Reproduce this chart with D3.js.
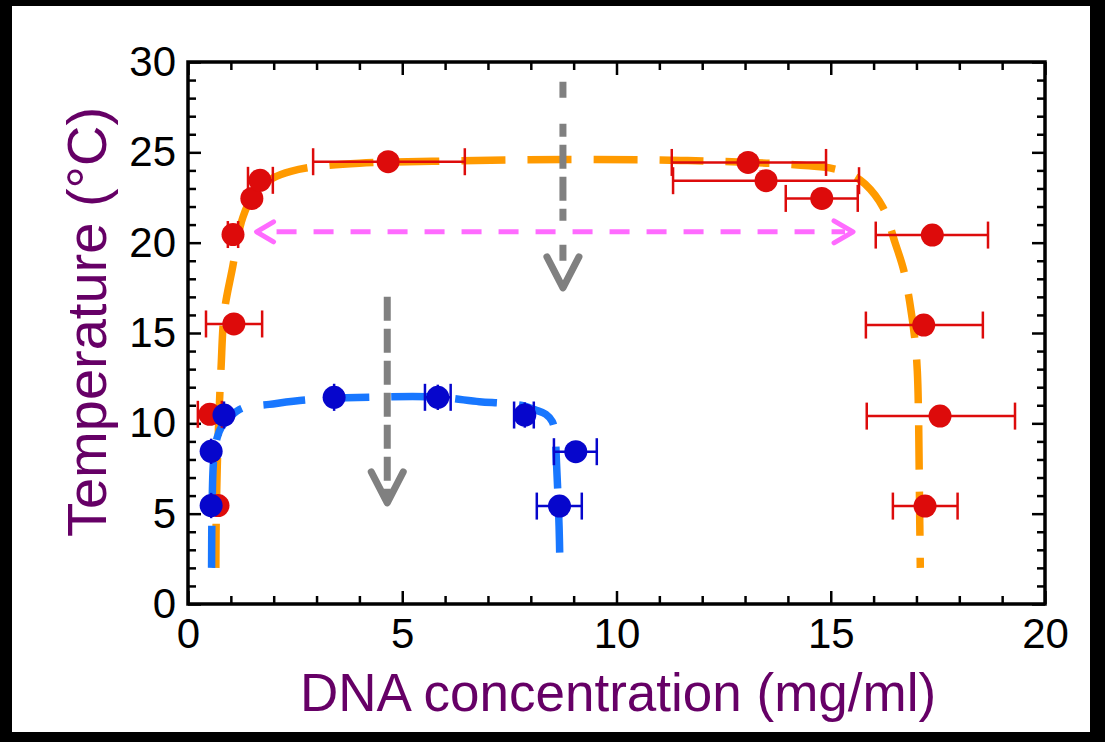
<!DOCTYPE html>
<html>
<head>
<meta charset="utf-8">
<script src="https://cdn.jsdelivr.net/npm/d3@7"></script>
<style>
  body { margin: 0; background: #000; }
  svg { display: block; }
  .tick text { font-family: "Liberation Sans", Arial, sans-serif; fill: #000; }
  .domain { display: none; }
</style>
</head>
<body>
<svg id="chart" width="1105" height="742"></svg>
<script>
// red series: points with horizontal error bars
var redX   = [4.67, 13.07, 13.49, 14.79, 17.37, 17.17, 17.55, 17.2, 1.05, 1.49, 1.68, 1.07, 0.51, 0.7];
var redY   = [24.48, 24.44, 23.43, 22.45, 20.42, 15.44, 10.4, 5.42, 20.45, 22.45, 23.45, 15.5, 10.5, 5.45];
var redXLo = [2.92, 11.29, 11.32, 13.95, 16.05, 15.82, 15.84, 16.45, 0.93, 1.49, 1.4, 0.42, 0.23, 0.7];
var redXHi = [6.46, 14.89, 15.66, 15.63, 18.67, 18.55, 19.3, 17.96, 1.17, 1.49, 1.98, 1.73, 0.79, 0.7];

// blue series
var blueX   = [0.54, 0.54, 0.84, 3.41, 5.83, 7.86, 9.05, 8.67];
var blueY   = [5.45, 8.45, 10.46, 11.44, 11.44, 10.46, 8.43, 5.42];
var blueXLo = [0.54, 0.54, 0.84, 3.41, 5.53, 7.61, 8.54, 8.14];
var blueXHi = [0.54, 0.54, 0.84, 3.41, 6.13, 8.07, 9.54, 9.19];
var blueYErr = [0.7, 0.7, 0.75, 0.75, 0.7, 0.7, 0.5, 0.5];

// dashed guide curves
var orangeCurve = [[0.65, 2.0], [0.66, 5], [0.7, 9], [0.77, 13], [0.85, 16.2], [1.03, 18.5],
  [1.28, 21.4], [1.6, 22.9], [2.0, 23.6], [2.4, 23.95], [2.95, 24.2], [4, 24.4], [5.7, 24.5],
  [8.8, 24.6], [11.5, 24.55], [13.5, 24.4], [14.5, 24.25], [15.05, 24.1], [15.45, 23.8],
  [15.8, 23.25], [16.22, 21.95], [16.5, 20.0], [16.7, 18.5], [16.85, 16.6], [16.97, 14.5],
  [17.02, 12.9], [17.05, 10.2], [17.07, 6], [17.09, 2.0]];
var blueCurve = [[0.55, 2.0], [0.56, 5], [0.6, 8], [0.68, 9.2], [0.78, 9.8], [1.0, 10.4],
  [1.28, 10.85], [1.9, 11.05], [2.8, 11.3], [4.4, 11.45], [5.8, 11.45], [6.8, 11.2],
  [7.4, 11.1], [7.86, 10.95], [8.1, 10.75], [8.35, 10.5], [8.5, 10.1], [8.56, 9.5],
  [8.6, 7.8], [8.66, 4.3], [8.68, 2.05]];

// annotation arrows (data units)
var grayArrowX   = [8.75, 4.65];
var grayArrowTop = [28.9, 17.0];
var grayArrowTip = [17.5, 5.6];
var pinkArrowY = 20.6, pinkArrowX = [1.6, 15.52];

var xTicks = [0, 5, 10, 15, 20];
var yTicks = [0, 5, 10, 15, 20, 25, 30];

var svg = d3.select("#chart");
svg.append("rect").attr("width", 1105).attr("height", 742).attr("fill", "#000");
svg.append("rect").attr("x", 12).attr("y", 6).attr("width", 1078).attr("height", 726).attr("fill", "#fff");

var x = d3.scaleLinear().domain([0, 20]).range([188, 1045]);
var y = d3.scaleLinear().domain([0, 30]).range([604, 62]);

var minorX = d3.range(0, 21).filter(function(v) { return v % 5; });
var minorY = d3.range(0, 31).filter(function(v) { return v % 5; });

function styleAxis(g) {
  g.selectAll(".tick line").attr("stroke", "#000").attr("stroke-width", 2.5);
  g.selectAll(".tick text").style("font-size", "42px");
}

// bottom
svg.append("g").attr("transform", "translate(0,604)")
  .call(d3.axisBottom(x).tickValues(xTicks).tickSize(-13).tickPadding(14).tickFormat(d3.format("d")))
  .call(styleAxis);
svg.append("g").attr("transform", "translate(0,604)")
  .call(d3.axisBottom(x).tickValues(minorX).tickSize(-8).tickFormat(""))
  .call(styleAxis);
// top
svg.append("g").attr("transform", "translate(0,62)")
  .call(d3.axisTop(x).tickValues(xTicks).tickSize(-13).tickFormat(""))
  .call(styleAxis);
svg.append("g").attr("transform", "translate(0,62)")
  .call(d3.axisTop(x).tickValues(minorX).tickSize(-8).tickFormat(""))
  .call(styleAxis);
// left
svg.append("g").attr("transform", "translate(188,0)")
  .call(d3.axisLeft(y).tickValues(yTicks).tickSize(-13).tickPadding(12).tickFormat(d3.format("d")))
  .call(styleAxis);
svg.append("g").attr("transform", "translate(188,0)")
  .call(d3.axisLeft(y).tickValues(minorY).tickSize(-8).tickFormat(""))
  .call(styleAxis);
// right
svg.append("g").attr("transform", "translate(1045,0)")
  .call(d3.axisRight(y).tickValues(yTicks).tickSize(-13).tickFormat(""))
  .call(styleAxis);
svg.append("g").attr("transform", "translate(1045,0)")
  .call(d3.axisRight(y).tickValues(minorY).tickSize(-8).tickFormat(""))
  .call(styleAxis);

svg.append("rect")
  .attr("x", x(0)).attr("y", y(30))
  .attr("width", x(20) - x(0)).attr("height", y(0) - y(30))
  .attr("fill", "none").attr("stroke", "#000").attr("stroke-width", 3.5);

// curves
var line = d3.line()
  .x(function(d) { return x(d[0]); })
  .y(function(d) { return y(d[1]); })
  .curve(d3.curveCatmullRom.alpha(0.5));

svg.append("path").datum(orangeCurve)
  .attr("d", line).attr("fill", "none")
  .attr("stroke", "#ff9a00").attr("stroke-width", 7.5).attr("stroke-dasharray", "44,22");
svg.append("path").datum(blueCurve)
  .attr("d", line).attr("fill", "none")
  .attr("stroke", "#1877ff").attr("stroke-width", 7.5).attr("stroke-dasharray", "42,22");

// pink double arrow
var pink = svg.append("g").attr("stroke", "#ff6bff").attr("fill", "none")
  .attr("stroke-width", 5).attr("stroke-linecap", "round").attr("stroke-linejoin", "round");
pink.append("line")
  .attr("x1", x(pinkArrowX[0]) + 20).attr("x2", x(pinkArrowX[1]) - 8)
  .attr("y1", y(pinkArrowY)).attr("y2", y(pinkArrowY))
  .attr("stroke-dasharray", "20,17").attr("stroke-linecap", "butt");
pink.append("polyline").attr("points", [
  [x(pinkArrowX[0]) + 17, y(pinkArrowY) - 10], [x(pinkArrowX[0]), y(pinkArrowY)], [x(pinkArrowX[0]) + 17, y(pinkArrowY) + 10]
].join(" "));
pink.append("polyline").attr("points", [
  [x(pinkArrowX[1]) - 19, y(pinkArrowY) - 11], [x(pinkArrowX[1]), y(pinkArrowY)], [x(pinkArrowX[1]) - 19, y(pinkArrowY) + 11]
].join(" "));

// gray arrows
var gray = svg.append("g").attr("stroke", "#808080").attr("fill", "none").attr("stroke-width", 7);
grayArrowX.forEach(function(ax, i) {
  var cx = x(ax), top = y(grayArrowTop[i]), tip = y(grayArrowTip[i]);
  gray.append("line")
    .attr("x1", cx).attr("x2", cx).attr("y1", top).attr("y2", tip - 4)
    .attr("stroke-dasharray", i === 0 ? "16,26,13,8,24,8,24,8,12,24" : "24,8");
  gray.append("polyline")
    .attr("points", [[cx - 16, tip - 31], [cx, tip], [cx + 16, tip - 31]].join(" "))
    .attr("stroke-linecap", "round").attr("stroke-linejoin", "round");
});

// error bars
function errorBars(xs, ys, lo, hi, color, yerr) {
  var g = svg.append("g").attr("stroke", color).attr("stroke-width", 2.5);
  xs.forEach(function(v, i) {
    if (hi[i] > lo[i]) {
      g.append("line").attr("x1", x(lo[i])).attr("x2", x(hi[i])).attr("y1", y(ys[i])).attr("y2", y(ys[i]));
      [lo[i], hi[i]].forEach(function(e) {
        g.append("line").attr("x1", x(e)).attr("x2", x(e)).attr("y1", y(ys[i]) - 13.5).attr("y2", y(ys[i]) + 13.5);
      });
    }
    if (yerr && yerr[i]) {
      g.append("line").attr("x1", x(v)).attr("x2", x(v))
        .attr("y1", y(ys[i] - yerr[i])).attr("y2", y(ys[i] + yerr[i]));
    }
  });
}
errorBars(redX, redY, redXLo, redXHi, "#dd0b0b", null);
svg.append("g").selectAll("circle").data(redX).enter().append("circle")
  .attr("cx", function(d) { return x(d); })
  .attr("cy", function(d, i) { return y(redY[i]); })
  .attr("r", 11.5).attr("fill", "#dd0b0b");

errorBars(blueX, blueY, blueXLo, blueXHi, "#0606cc", blueYErr);
svg.append("g").selectAll("circle").data(blueX).enter().append("circle")
  .attr("cx", function(d) { return x(d); })
  .attr("cy", function(d, i) { return y(blueY[i]); })
  .attr("r", 11.5).attr("fill", "#0606cc");

// axis titles
svg.append("text")
  .attr("x", 618).attr("y", 711)
  .attr("text-anchor", "middle")
  .style("font-family", "Liberation Sans, Arial, sans-serif").style("font-size", "53px")
  .attr("fill", "#660066")
  .text("DNA concentration (mg/ml)");
svg.append("text")
  .attr("transform", "translate(106,322) rotate(-90)")
  .attr("text-anchor", "middle")
  .style("font-family", "Liberation Sans, Arial, sans-serif").style("font-size", "56px")
  .attr("fill", "#660066")
  .text("Temperature (°C)");
</script>
</body>
</html>
